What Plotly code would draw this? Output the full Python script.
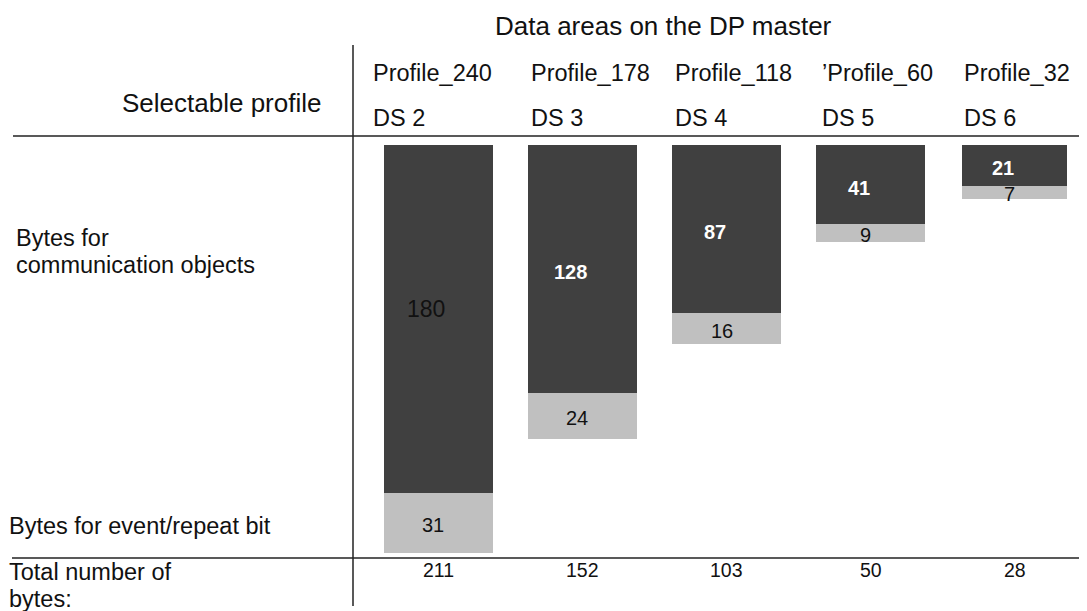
import plotly.graph_objects as go

# ---------------- data ----------------
profiles = ["Profile_240", "Profile_178", "Profile_118", "\u2019Profile_60", "Profile_32"]
data_sets = ["DS 2", "DS 3", "DS 4", "DS 5", "DS 6"]
comm_bytes = [180, 128, 87, 41, 21]
event_bytes = [31, 24, 16, 9, 7]
total_bytes = [180 + 31, 128 + 24, 87 + 16, 41 + 9, 21 + 7]

title_text = "Data areas on the DP master"
row_header = "Selectable profile"
comm_label = ["Bytes for", "communication objects"]
event_label = "Bytes for event/repeat bit"
total_label = ["Total number of", "bytes:"]

# ---------------- layout constants ----------------
# the page body has an 8px default margin, so the figure is drawn 8px in
OFF = 8
WIN_W, WIN_H = 1087, 611
W, H = WIN_W - OFF, WIN_H - OFF
PLOT_L, PLOT_R = 366, 1087
PLOT_T, PLOT_B = 145, 553
BAR_W = 0.756
bar_widths = [BAR_W, BAR_W, BAR_W, BAR_W, 0.728]
FONT = "Liberation Sans, Arial, Helvetica, sans-serif"
DARK = "#404040"
LIGHT = "#c0c0c0"
INK = "#111111"
header_dx = [-13, 1, 1, 4, 2]


def px(x):
    return (x - OFF) / W


def py(y):
    return 1 - (y - OFF) / H


fig = go.Figure()
fig.add_trace(go.Bar(x=profiles, y=comm_bytes, marker=dict(color=DARK, line=dict(width=0)),
                     width=bar_widths, hoverinfo="skip", name="comm"))
fig.add_trace(go.Bar(x=profiles, y=event_bytes, marker=dict(color=LIGHT, line=dict(width=0)),
                     width=bar_widths, hoverinfo="skip", name="event"))

ann = []


def text(x, y, s, size, xanchor="left", xref="paper", yref="paper", color=INK, xshift=0, yshift=0):
    ann.append(dict(x=x, y=y, xref=xref, yref=yref, text=s, showarrow=False,
                    xanchor=xanchor, yanchor="middle", xshift=xshift, yshift=yshift,
                    font=dict(family=FONT, size=size, color=color)))


text(px(663), py(26), title_text, 26, xanchor="center")
text(px(323), py(102.5), row_header, 26, xanchor="right")
text(px(14), py(238), comm_label[0], 23.5)
text(px(14), py(264.5), comm_label[1], 23.5)
text(px(7), py(525.5), event_label, 23.5)
text(px(7), py(571.5), total_label[0], 23.5)
text(px(7), py(599), total_label[1], 23.5)

bar_half_px = BAR_W * (PLOT_R - PLOT_L) / len(profiles) / 2
for i, (p, ds) in enumerate(zip(profiles, data_sets)):
    text(p, py(73), p, 23.5, xref="x", xshift=-bar_half_px + header_dx[i])
    text(p, py(118), ds, 23.5, xref="x", xshift=-bar_half_px + header_dx[i])
    text(p, py(569.5), str(total_bytes[i]), 19.5, xanchor="center", xref="x")

for i, p in enumerate(profiles):
    c, e = comm_bytes[i], event_bytes[i]
    if i == 0:
        text(p, c / 2, str(c), 23, xanchor="center", xref="x", yref="y", color=INK, xshift=-12, yshift=10)
    else:
        text(p, c / 2, "<b>%d</b>" % c, 20, xanchor="center", xref="x", yref="y", color="white",
             xshift=-12, yshift=-3)
    text(p, c + e / 2, str(e), 20, xanchor="center", xref="x", yref="y", color=INK, xshift=-5, yshift=-2)

line = dict(color="#222222", width=1.5)
shapes = [
    dict(type="line", xref="paper", yref="paper", x0=px(353), x1=px(353), y0=py(45), y1=py(606), line=line),
    dict(type="line", xref="paper", yref="paper", x0=px(13), x1=1, y0=py(136), y1=py(136), line=line),
    dict(type="line", xref="paper", yref="paper", x0=px(12), x1=1, y0=py(558), y1=py(558), line=line),
]

fig.update_layout(
    width=W, height=H, barmode="stack", showlegend=False,
    margin=dict(l=0, r=0, t=0, b=0, pad=0),
    paper_bgcolor="white", plot_bgcolor="white",
    xaxis=dict(domain=[px(PLOT_L), px(PLOT_R)], range=[-0.5, len(profiles) - 0.5],
               visible=False, type="category"),
    yaxis=dict(domain=[py(PLOT_B), py(PLOT_T)], range=[max(total_bytes), 0], visible=False),
    annotations=ann, shapes=shapes,
    font=dict(family=FONT, color=INK),
)

fig.write_html("out.html")
